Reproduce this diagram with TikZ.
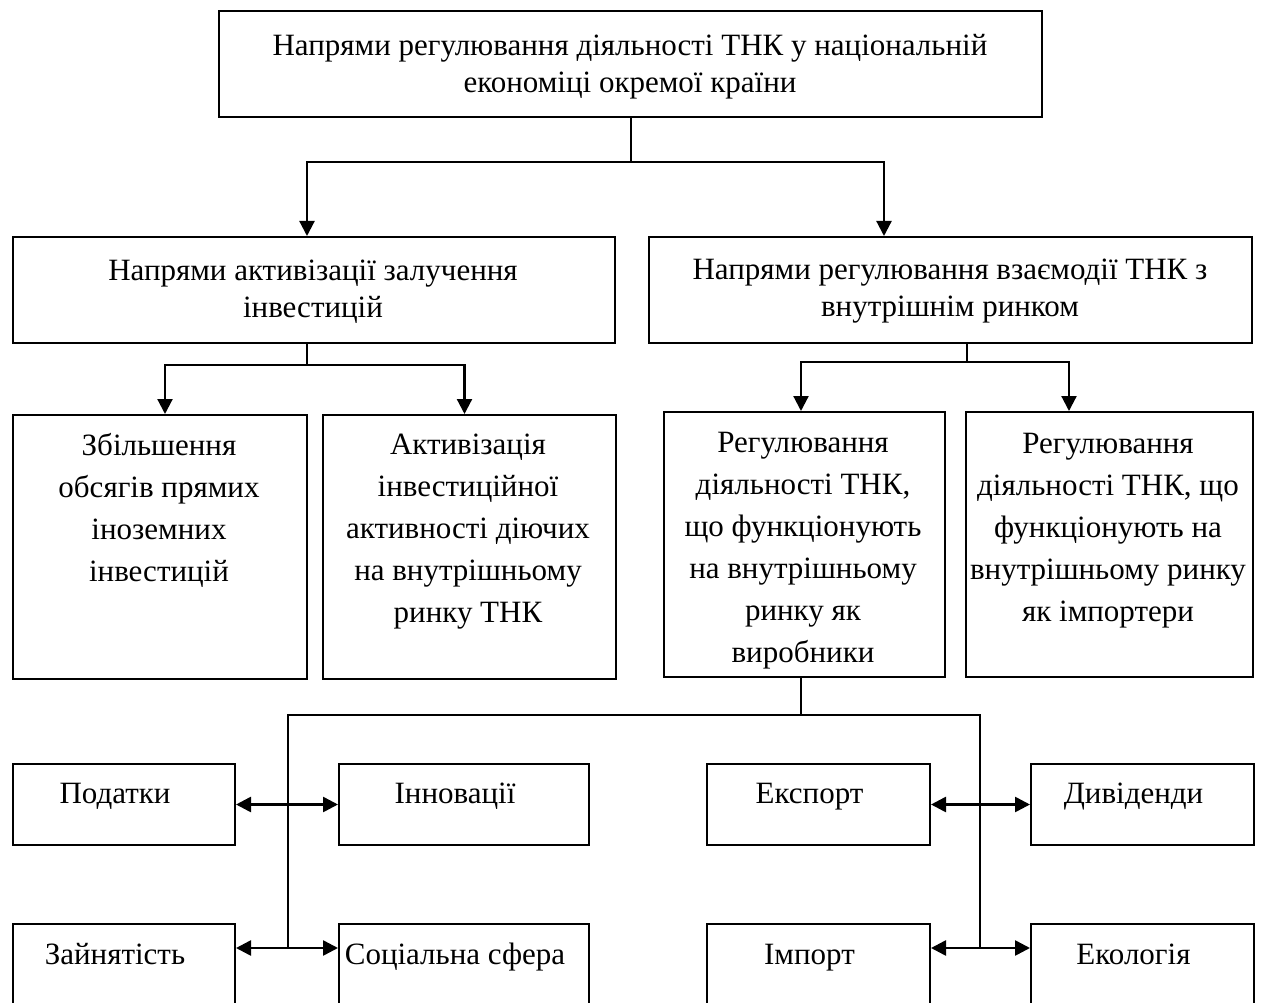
\documentclass[tikz,border=0pt]{standalone}
\usepackage{fontspec}
\setmainfont{Liberation Serif}
\usetikzlibrary{arrows.meta,calc}
\begin{document}
\begin{tikzpicture}[x=1pt,y=-1pt,
  box/.style={draw, line width=2pt, inner sep=0pt, anchor=north west},
  txt/.style={inner sep=0pt, align=center, font=\fontsize{31}{37}\selectfont},
  txtb/.style={inner sep=0pt, align=center, font=\fontsize{31}{42}\selectfont},
  lbl/.style={inner sep=0pt, anchor=base, font=\fontsize{31}{37}\selectfont},
  arr/.style={line width=2.2pt, -{Triangle[length=15pt,width=15pt]}},
  dbl/.style={line width=2.6pt, {Triangle[length=15pt,width=15pt]}-{Triangle[length=15pt,width=15pt]}},
  ln/.style={line width=2pt}]
\useasboundingbox (0,0) rectangle (1267,1003);
\clip (0,0) rectangle (1267,1003);
% level 1
\node[box, minimum width=823pt, minimum height=106pt] (top) at (218,10) {};
\node[txt] (topt) at (630,66.5) {Напрями регулювання діяльності ТНК у національній\\економіці окремої країни};
% level 2
\node[box, minimum width=602pt, minimum height=106pt] (la) at (12,236) {};
\node[txt] (lat) at (313,291.5) {Напрями активізації залучення\\інвестицій};
\node[box, minimum width=603pt, minimum height=106pt] (lb) at (648,236) {};
\node[txt] (lbt) at (950,291.5) {Напрями регулювання взаємодії ТНК з\\внутрішнім ринком};
% level 3
\node[box, minimum width=294pt, minimum height=264pt] (a) at (12,414) {};
\node[txtb] (at) at (159,510.5) {Збільшення\\обсягів прямих\\іноземних\\інвестицій};
\node[box, minimum width=293pt, minimum height=264pt] (b) at (322,414) {};
\node[txtb] (bt) at (468,531.5) {Активізація\\інвестиційної\\активності діючих\\на внутрішньому\\ринку ТНК};
\node[box, minimum width=281pt, minimum height=265pt] (c) at (663,411) {};
\node[txtb] (ct) at (803,551) {Регулювання\\діяльності ТНК,\\що функціонують\\на внутрішньому\\ринку як\\виробники};
\node[box, minimum width=287pt, minimum height=265pt] (d) at (965,411) {};
\node[txtb] (dt) at (1108,530.5) {Регулювання\\діяльності ТНК, що\\функціонують на\\внутрішньому ринку\\як імпортери};
% level 4
\node[box, minimum width=222pt, minimum height=81pt] (tax) at (12,763) {};
\node[lbl] (taxt) at ($(tax.north)+(-9,40)$) {Податки};
\node[box, minimum width=250pt, minimum height=81pt] (inn) at (338,763) {};
\node[lbl] (innt) at ($(inn.north)+(-9,40)$) {Інновації};
\node[box, minimum width=223pt, minimum height=81pt] (exp) at (706,763) {};
\node[lbl] (expt) at ($(exp.north)+(-9,40)$) {Експорт};
\node[box, minimum width=223pt, minimum height=81pt] (div) at (1030,763) {};
\node[lbl] (divt) at ($(div.north)+(-9,40)$) {Дивіденди};
% level 5
\node[box, minimum width=222pt, minimum height=110pt] (zay) at (12,923) {};
\node[lbl] (zayt) at ($(zay.north)+(-9,41)$) {Зайнятість};
\node[box, minimum width=250pt, minimum height=110pt] (soc) at (338,923) {};
\node[lbl] (soct) at ($(soc.north)+(-9,41)$) {Соціальна сфера};
\node[box, minimum width=223pt, minimum height=110pt] (imp) at (706,923) {};
\node[lbl] (impt) at ($(imp.north)+(-9,41)$) {Імпорт};
\node[box, minimum width=223pt, minimum height=110pt] (eco) at (1030,923) {};
\node[lbl] (ecot) at ($(eco.north)+(-9,41)$) {Екологія};
% connectors level 1 -> 2
\draw[ln] (top.south) -- ++(0,44) coordinate (j1);
\draw[arr] (j1) -| ([xshift=-7pt]la.north);
\draw[arr] (j1) -| ([xshift=-66.5pt]lb.north);
% level 2 -> 3
\draw[ln] ([xshift=-7pt]la.south) -- ++(0,21) coordinate (j2);
\draw[arr] (j2) -| ([xshift=5pt]a.north);
\draw[arr] (j2) -| ([xshift=-5pt]b.north);
\draw[ln] ([xshift=16pt]lb.south) -- ++(0,18) coordinate (j3);
\draw[arr] (j3) -| ([xshift=-3.5pt]c.north);
\draw[arr] (j3) -| ([xshift=-40.5pt]d.north);
% level 3 -> bottom
\coordinate (hubL) at (288,948);
\coordinate (hubR) at (980,948);
\draw[ln] ([xshift=-3.5pt]c.south) -- ++(0,37) coordinate (j4);
\draw[ln] (j4) -| (hubL);
\draw[ln] (j4) -| (hubR);
\draw[dbl] (tax.east) -- (inn.west);
\draw[dbl] (exp.east) -- (div.west);
\draw[dbl] (zay.north east |- hubL) -- (soc.north west |- hubL);
\draw[dbl] (imp.north east |- hubR) -- (eco.north west |- hubR);
\end{tikzpicture}
\end{document}
